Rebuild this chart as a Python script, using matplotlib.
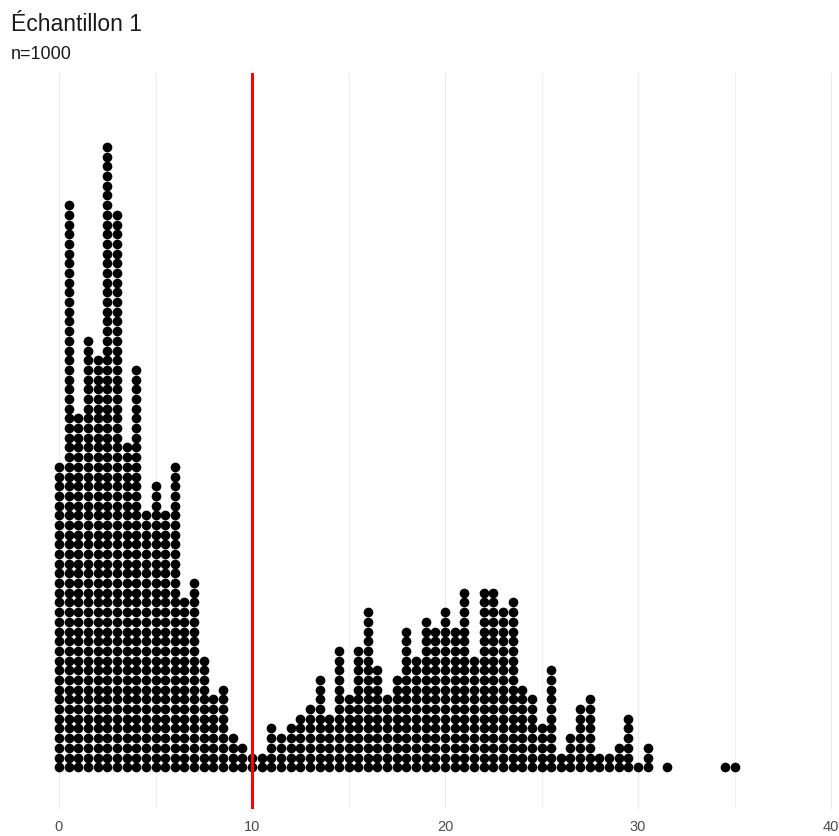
import matplotlib.pyplot as plt
import numpy as np

# bin centres (x) and how many dots are stacked in each bin
centres = [0, 0.5, 1, 1.5, 2, 2.5, 3, 3.5, 4, 4.5, 5, 5.5, 6, 6.5, 7, 7.5, 8, 8.5, 9, 9.5, 10,
           10.5, 11, 11.5, 12, 12.5, 13, 13.5, 14, 14.5, 15, 15.5, 16, 16.5, 17, 17.5, 18, 18.5, 19, 19.5,
           20, 20.5, 21, 21.5, 22, 22.5, 23, 23.5, 24, 24.5, 25, 25.5, 26, 26.5, 27, 27.5, 28, 28.5, 29, 29.5,
           30, 30.5, 31.5, 34.5, 35]
counts = [32, 59, 37, 45, 43, 65, 58, 34, 42, 27, 30, 27, 32, 18, 20, 12, 8, 9, 4, 3, 2,
          2, 5, 4, 5, 6, 7, 10, 6, 13, 8, 13, 17, 11, 8, 10, 15, 12, 16, 15,
          17, 15, 19, 12, 19, 19, 17, 18, 9, 8, 5, 11, 2, 4, 7, 8, 2, 2, 3, 6,
          1, 3, 1, 1, 1]
threshold = 10
title = "Échantillon 1"
subtitle = "n=1000"
major_ticks = [0, 10, 20, 30, 40]
minor_ticks = [5, 15, 25, 35]

plt.rcParams['font.family'] = ['Liberation Sans', 'DejaVu Sans']

W, H = 839, 837
fig = plt.figure(figsize=(W / 100, H / 100), dpi=100)

# pixel geometry
px_unit = 19.3       # pixels per x unit
x0_px = 59           # pixel column of x=0
top_px, bot_px = 74, 810
row0_px = 768.2      # centre of the bottom dot row
step = 9.69          # dot diameter / row spacing in pixels

ax = fig.add_axes([0, (H - bot_px) / H, 1, (bot_px - top_px) / H])
ax.set_xlim(-x0_px / px_unit, (W - x0_px) / px_unit)
ax.set_ylim(-(bot_px - row0_px) / step, (row0_px - top_px) / step)

xs, ys = [], []
for c, n in zip(centres, counts):
    xs += [c] * n
    ys += list(range(n))

d_pt = step * 72 / 100
ax.scatter(xs, ys, s=d_pt ** 2, c='black', linewidths=0, zorder=3)

for t in major_ticks:
    ax.axvline(t, color='#EBEBEB', lw=0.9, zorder=0)
for t in minor_ticks:
    ax.axvline(t, color='#EBEBEB', lw=0.55, zorder=0)
ax.axvline(threshold, color='#FF0000', lw=2.2, zorder=4)

ax.set_xticks(major_ticks)
ax.set_xticklabels([str(t) for t in major_ticks], fontsize=10.5, color='#4D4D4D')
ax.tick_params(axis='x', length=0, pad=7)
ax.set_yticks([])
for s in ax.spines.values():
    s.set_visible(False)

fig.text(11 / W, 1 - 31 / H, title, fontsize=16.5, color='#1A1A1A', va='baseline')
fig.text(11 / W, 1 - 59 / H, subtitle, fontsize=13, color='#1A1A1A', va='baseline')

fig.savefig('out.png', dpi=100)
